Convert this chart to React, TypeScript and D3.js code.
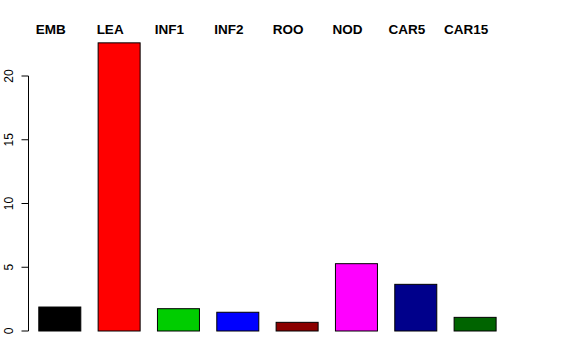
import React from "react";
import * as d3 from "d3";

const categories = ["EMB", "LEA", "INF1", "INF2", "ROO", "NOD", "CAR5", "CAR15"];
const values = [1.88, 22.6, 1.75, 1.47, 0.68, 5.28, 3.66, 1.07];
const colors = ["#000000", "#FF0000", "#00CD00", "#0000FF", "#8B0000", "#FF00FF", "#00008B", "#006400"];
const yTicks = [0, 5, 10, 15, 20];

const W = 576;
const H = 360;

export default function App() {
  const step = 59.33;
  const pad = 17.33 / step;
  const x0 = 38.3 - 17.33 / 2;
  const x = d3
    .scaleBand<string>()
    .domain(categories)
    .range([x0, x0 + step * categories.length])
    .paddingInner(pad)
    .paddingOuter(pad / 2);
  const y = d3.scaleLinear().domain([0, 20]).range([331, 76]);
  const axisX = 28.5;
  const font = "'Liberation Sans', Arial, Helvetica, sans-serif";

  return (
    <svg
      width={W}
      height={H}
      style={{ position: "absolute", left: 0, top: 0, background: "#fff" }}
      fontFamily={font}
    >
      {categories.map((c, i) => (
        <rect
          key={c}
          x={x(c)! + 0.5}
          y={y(values[i])}
          width={x.bandwidth()}
          height={y(0) - y(values[i])}
          fill={colors[i]}
          stroke="#000"
          strokeWidth={1}
        />
      ))}
      {categories.map((c) => (
        <text
          key={"l" + c}
          x={x(c)! + x.bandwidth() / 2 - 8.5}
          y={34}
          textAnchor="middle"
          fontWeight="bold"
          fontSize={13.5}
          fill="#000"
        >
          {c}
        </text>
      ))}
      <line x1={axisX} x2={axisX} y1={y(0)} y2={y(20)} stroke="#000" strokeWidth={1} />
      {yTicks.map((t) => (
        <g key={"t" + t}>
          <line x1={axisX - 7} x2={axisX} y1={y(t)} y2={y(t)} stroke="#000" strokeWidth={1} />
          <text
            transform={`translate(13,${y(t)}) rotate(-90)`}
            textAnchor="middle"
            fontSize={12}
            fill="#000"
          >
            {t}
          </text>
        </g>
      ))}
    </svg>
  );
}
